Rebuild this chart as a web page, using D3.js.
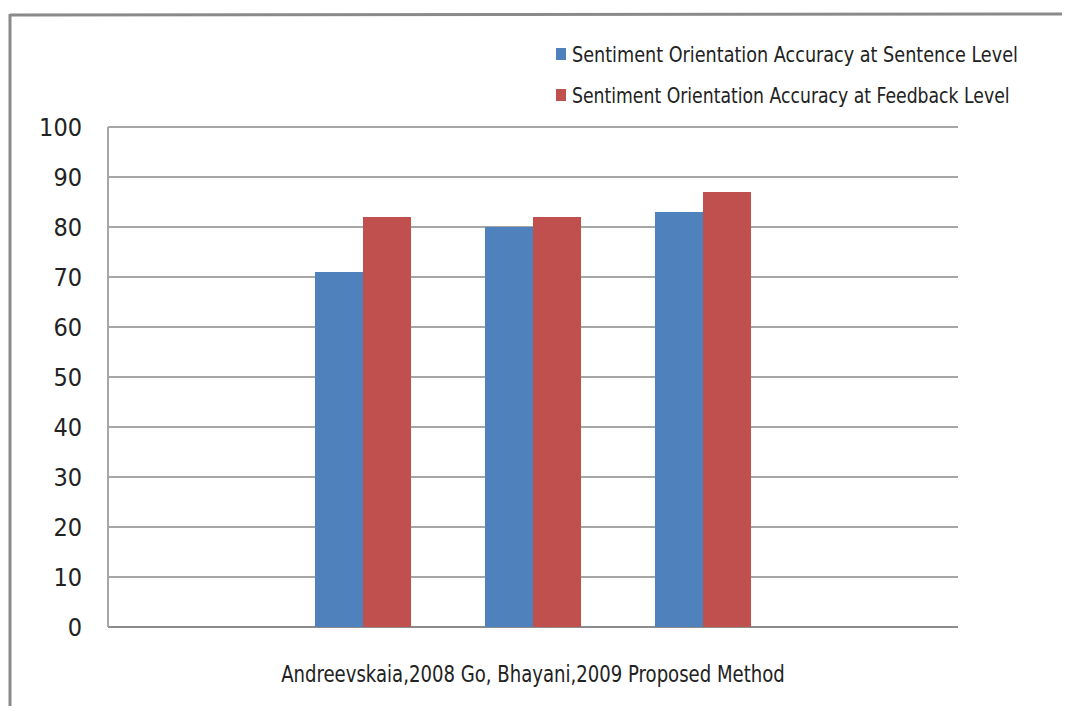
<!DOCTYPE html>
<html>
  <head>
    <meta charset="utf-8">
    <title>Sentiment orientation accuracy</title>
    <script src="https://d3js.org/d3.v7.min.js"></script>
    <style>
      body { margin: 0; background: #fff; }
      #chart { width: 1066px; height: 721px; display: block; }
      .axisText { font-family: "DejaVu Sans Condensed", "Liberation Sans Narrow", sans-serif; fill: #222; }
    </style>
  </head>
  <body>
    <svg id="chart">
      <g id="frameGroup"></g>
      <g id="gridGroup"></g>
      <g id="chartGroup"></g>
      <g id="yAxisGroup"></g>
      <g id="legendGroup"></g>
    </svg>
    <script>
      // data
      var categories = ["Andreevskaia,2008", "Go, Bhayani,2009", "Proposed Method"];
      var seriesNames = ["Sentiment Orientation Accuracy at  Sentence Level", "Sentiment Orientation Accuracy at Feedback Level"];
      var sentenceLevel = [71, 80, 83];
      var feedbackLevel = [82, 82, 87];
      var yTicks = [0, 10, 20, 30, 40, 50, 60, 70, 80, 90, 100];
      var colours = ["#4F81BD", "#C0504D"];

      // excel left an empty slot either side of the three groups
      var slots = ["padLeft"].concat(categories, ["padRight"]);

      var width = 1066, height = 721;
      var margin = { top: 127, right: 108, bottom: 94, left: 108 };
      var chart = d3.select("#chart");

      // shadowed frame (top and left edges only show)
      var frame = d3.select("#frameGroup");
      frame.append("line")
        .attr("x1", 10).attr("y1", 15).attr("x2", 1062).attr("y2", 14)
        .attr("stroke", "#8a8a8a").attr("stroke-width", 3);
      frame.append("line")
        .attr("x1", 10).attr("y1", 14).attr("x2", 10).attr("y2", 706)
        .attr("stroke", "#8a8a8a").attr("stroke-width", 3);

      var x = d3.scaleBand()
        .domain(slots)
        .range([margin.left, width - margin.right])
        .paddingInner(0.435)
        .paddingOuter(0.2175);
      var xSub = d3.scaleBand()
        .domain([0, 1])
        .range([0, x.bandwidth()]);
      var y = d3.scaleLinear()
        .domain([0, 100])
        .range([height - margin.bottom, margin.top]);

      // gridlines
      var grid = d3.select("#gridGroup");
      grid.selectAll("line")
          .data(yTicks)
        .enter().append("line")
          .attr("x1", margin.left)
          .attr("x2", width - margin.right)
          .attr("y1", function(d) { return y(d); })
          .attr("y2", function(d) { return y(d); })
          .attr("stroke", function(d) { return d === 0 ? "#8c8c8c" : "#a6a6a6"; })
          .attr("stroke-width", 2);
      grid.append("line")
        .attr("x1", margin.left).attr("x2", margin.left)
        .attr("y1", y(100)).attr("y2", y(0))
        .attr("stroke", "#a6a6a6").attr("stroke-width", 2);

      // bars
      var rows = categories.map(function(c, i) {
        return { category: c, values: [sentenceLevel[i], feedbackLevel[i]] };
      });
      var groups = d3.select("#chartGroup")
        .selectAll(".group")
          .data(rows)
        .enter().append("g")
          .classed("group", true)
          .attr("transform", function(d) { return "translate(" + x(d.category) + ",0)"; });
      groups.selectAll("rect")
          .data(function(d) { return d.values; })
        .enter().append("rect")
          .attr("x", function(d, i) { return xSub(i); })
          .attr("y", function(d) { return y(d); })
          .attr("width", xSub.bandwidth())
          .attr("height", function(d) { return y(0) - y(d); })
          .attr("fill", function(d, i) { return colours[i]; });

      // y axis labels
      var yAxis = d3.axisLeft(y)
        .tickValues(yTicks)
        .tickSize(0)
        .tickPadding(26);
      d3.select("#yAxisGroup")
        .attr("transform", "translate(" + margin.left + ",0)")
        .call(yAxis)
        .call(function(g) { g.select(".domain").remove(); })
        .selectAll("text")
          .attr("class", "axisText")
          .style("font-size", "25px")
          .attr("font-family", null);

      // squeeze a text horizontally so it takes the given width
      function squeeze(sel, target) {
        sel.each(function(d, i) {
          var t = d3.select(this);
          var w = this.getComputedTextLength();
          var goal = typeof target === "function" ? target(d, i) : target;
          var k = goal / w;
          var ax = +t.attr("data-x");
          t.attr("x", ax / k)
            .attr("transform", "scale(" + k + ",1)");
        });
      }

      // category labels, excel ran them together as one line
      chart.append("text")
        .attr("class", "axisText")
        .attr("data-x", (x.range()[0] + x.range()[1]) / 2)
        .attr("y", y(0) + 55)
        .attr("text-anchor", "middle")
        .style("font-size", "23px")
        .style("fill", "#222")
        .text(categories.join("  "))
        .call(squeeze, 504);

      // legend
      var legend = d3.select("#legendGroup")
        .selectAll(".legendItem")
          .data(seriesNames)
        .enter().append("g")
          .classed("legendItem", true)
          .attr("transform", function(d, i) { return "translate(556," + (54 + i * 41) + ")"; });
      legend.append("rect")
        .attr("x", 0).attr("y", -6)
        .attr("width", 10).attr("height", 12)
        .attr("fill", function(d, i) { return colours[i]; });
      legend.append("text")
        .attr("class", "axisText")
        .attr("data-x", 16)
        .attr("y", 8)
        .style("font-size", "22px")
        .style("fill", "#222")
        .text(function(d) { return d; })
        .call(squeeze, function(d, i) { return i === 0 ? 446 : 438; });
    </script>
  </body>
</html>
